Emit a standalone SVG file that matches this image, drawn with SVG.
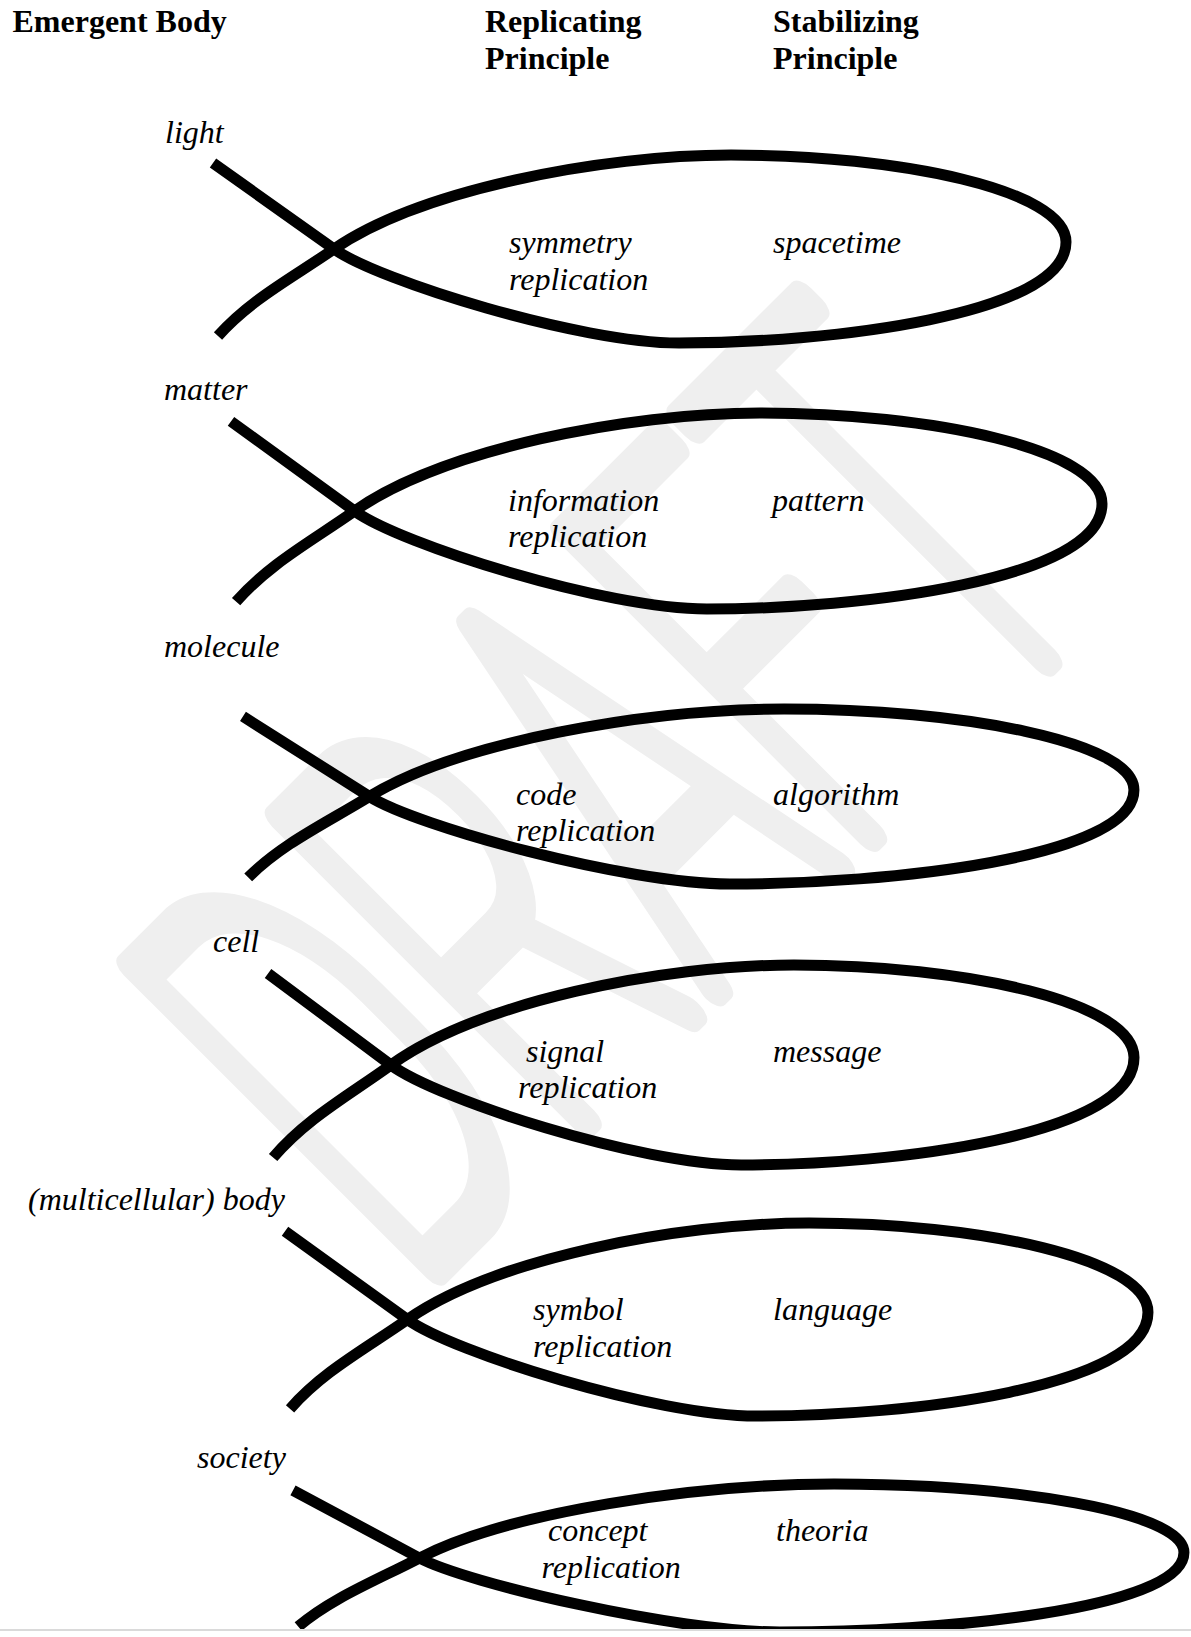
<svg xmlns="http://www.w3.org/2000/svg" xmlns:xlink="http://www.w3.org/1999/xlink" width="1191" height="1637" viewBox="0 0 1191 1637">
<defs>
<style>
.hdr { font-family: "Liberation Serif", "Times New Roman", serif; font-weight: bold; font-size: 32px; fill: #000; }
.lbl { font-family: "Liberation Serif", "Times New Roman", serif; font-style: italic; font-size: 32px; fill: #000; }
.fish { fill: none; stroke: #000; stroke-width: 11; stroke-linecap: butt; stroke-linejoin: round; }
.wm { font-family: Roboto, "Liberation Sans", sans-serif; font-weight: 100; font-size: 603px; fill: #efefef; stroke: #efefef; stroke-width: 28; stroke-linejoin: round; stroke-linecap: round; vector-effect: non-scaling-stroke; }
</style>
<path id="fishShape" vector-effect="non-scaling-stroke" d="M 213,163 L 334,249 C 379,281 580,343 679,343 C 830,343 1066,315 1066,242 C 1066,190 900,155 731,155 C 600,155 420,190 334,249 C 291,278.5 250,300 218,336"/>
</defs>
<rect x="0" y="0" width="1191" height="1637" fill="#ffffff"/>
<g id="watermark">
<text class="wm" x="0" y="0" textLength="1874" lengthAdjust="spacingAndGlyphs" transform="translate(411.2 1293.9) rotate(-45) scale(0.53 1)">DRAFT</text>
</g>
<g id="headers">
<text class="hdr" x="12.5" y="32">Emergent Body</text>
<text class="hdr" x="485" y="32">Replicating</text>
<text class="hdr" x="485" y="68.5">Principle</text>
<text class="hdr" x="773" y="32">Stabilizing</text>
<text class="hdr" x="773" y="68.5">Principle</text>
</g>
<g id="node-light">
<use xlink:href="#fishShape" class="fish"/>
<text class="lbl" x="165" y="143">light</text>
<text class="lbl" x="509" y="253">symmetry</text>
<text class="lbl" x="509" y="289.5">replication</text>
<text class="lbl" x="773" y="253">spacetime</text>
</g>
<g id="node-matter">
<use xlink:href="#fishShape" class="fish" transform="matrix(1.0211 0 0 1.0426 13.5 251.4)"/>
<text class="lbl" x="164" y="400">matter</text>
<text class="lbl" x="508" y="510.5">information</text>
<text class="lbl" x="508" y="546.5">replication</text>
<text class="lbl" x="772" y="510.5">pattern</text>
</g>
<g id="node-molecule">
<use xlink:href="#fishShape" class="fish" transform="matrix(1.0445 0 0 0.9309 20.5 564.7)"/>
<text class="lbl" x="164" y="657">molecule</text>
<text class="lbl" x="516" y="804.5">code</text>
<text class="lbl" x="516" y="841">replication</text>
<text class="lbl" x="773" y="804.5">algorithm</text>
</g>
<g id="node-cell">
<use xlink:href="#fishShape" class="fish" transform="matrix(1.0152 0 0 1.0638 51.8 800.1)"/>
<text class="lbl" x="213" y="951.5">cell</text>
<text class="lbl" x="526" y="1061.5">signal</text>
<text class="lbl" x="518" y="1098">replication</text>
<text class="lbl" x="773" y="1061.5">message</text>
</g>
<g id="node-body">
<use xlink:href="#fishShape" class="fish" transform="matrix(1.0117 0 0 1.0266 69.5 1063.9)"/>
<text class="lbl" x="28" y="1210">(multicellular) body</text>
<text class="lbl" x="533" y="1320">symbol</text>
<text class="lbl" x="533" y="1356.5">replication</text>
<text class="lbl" x="773" y="1320">language</text>
</g>
<g id="node-society">
<use xlink:href="#fishShape" class="fish" transform="matrix(1.0445 0 0 0.7872 70.5 1362)"/>
<text class="lbl" x="197" y="1468">society</text>
<text class="lbl" x="548" y="1541">concept</text>
<text class="lbl" x="541.5" y="1577.5">replication</text>
<text class="lbl" x="776" y="1541">theoria</text>
</g>
<g id="page-edge">
<rect x="0" y="1631" width="1191" height="6" fill="#ffffff"/>
<rect x="0" y="1629" width="1191" height="2" fill="#dadada"/>
</g>
</svg>
